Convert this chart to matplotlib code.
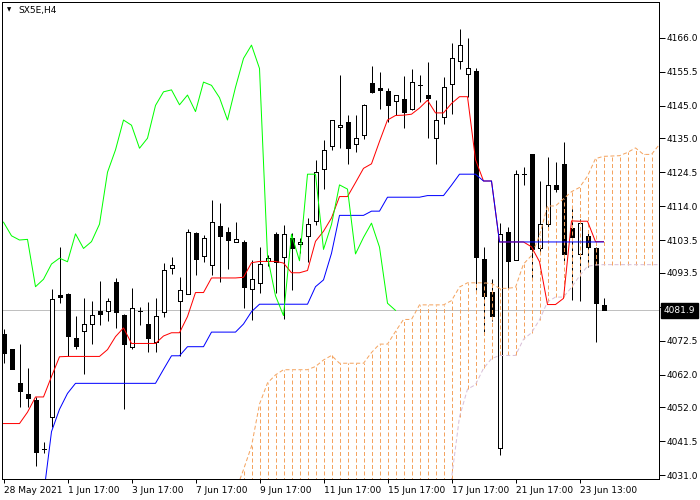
import numpy as np
import matplotlib
matplotlib.use("Agg")
import matplotlib.pyplot as plt
from matplotlib.patches import Rectangle

# ---------------- data (SX5E, H4) ----------------
open_ = [4074.6, 4070.0, 4059.4, 4056.1, 4054.3, 4039.1, 4048.9, 4086.6, 4087.0, 4073.4,
         4075.5, 4077.6, 4081.7, 4081.6, 4090.6, 4080.5, 4070.5, 4081.6, 4077.7, 4072.1,
         4081.3, 4095.1, 4084.9, 4086.9, 4105.9, 4098.8, 4095.8, 4107.9, 4106.1, 4102.9,
         4103.1, 4088.4, 4090.4, 4097.2, 4105.5, 4098.3, 4104.1, 4102.3, 4104.9, 4109.4,
         4125.4, 4132.6, 4138.4, 4139.9, 4133.2, 4135.9, 4152.1, 4150.5, 4149.5, 4146.4,
         4147.1, 4144.1, 4151.3, 4148.2, 4135.0, 4141.6, 4151.6, 4158.7, 4154.7, 4155.7,
         4097.7, 4087.5, 4039.4, 4106.1, 4097.3, 4123.9, 4130.1, 4101.0, 4108.4, 4120.6,
         4127.0, 4107.2, 4099.2, 4104.8, 4101.0, 4083.6]
high = [4076.2, 4070.0, 4071.5, 4064.1, 4055.3, 4041.3, 4088.5, 4101.5, 4087.3, 4080.1,
        4085.7, 4084.8, 4091.0, 4085.7, 4092.0, 4080.8, 4088.7, 4082.9, 4084.6, 4085.6,
        4096.6, 4098.5, 4092.1, 4106.9, 4106.2, 4105.2, 4115.9, 4115.1, 4107.7, 4109.2,
        4103.6, 4097.4, 4101.5, 4099.0, 4106.1, 4108.3, 4105.7, 4104.1, 4110.3, 4128.3,
        4134.4, 4140.6, 4154.5, 4142.1, 4142.1, 4145.5, 4157.3, 4155.5, 4150.4, 4148.3,
        4154.2, 4156.2, 4154.5, 4158.5, 4146.8, 4153.9, 4164.4, 4168.7, 4165.8, 4156.5,
        4101.5, 4091.5, 4108.9, 4107.7, 4125.2, 4126.2, 4130.1, 4121.8, 4129.1, 4127.6,
        4133.9, 4113.7, 4110.0, 4106.4, 4101.5, 4085.8]
low = [4065.7, 4063.7, 4052.0, 4052.0, 4033.9, 4038.0, 4046.0, 4084.3, 4067.8, 4070.0,
       4062.4, 4071.6, 4077.5, 4078.6, 4076.6, 4051.4, 4070.0, 4077.4, 4069.2, 4069.2,
       4080.0, 4093.1, 4067.8, 4086.9, 4092.9, 4096.7, 4092.7, 4090.8, 4094.8, 4102.9,
       4082.5, 4078.9, 4087.4, 4095.5, 4087.2, 4079.2, 4088.2, 4099.5, 4096.9, 4108.2,
       4119.2, 4131.4, 4131.9, 4127.0, 4130.8, 4134.9, 4149.0, 4143.9, 4140.1, 4142.1,
       4138.2, 4143.7, 4146.2, 4135.1, 4127.0, 4139.4, 4142.5, 4156.3, 4147.8, 4088.2,
       4075.0, 4078.5, 4037.3, 4088.7, 4097.3, 4120.6, 4091.9, 4100.0, 4106.7, 4118.5,
       4097.0, 4085.1, 4084.9, 4095.4, 4072.3, 4081.9]
close = [4068.8, 4063.7, 4057.1, 4055.0, 4038.2, 4039.1, 4085.3, 4086.1, 4074.1, 4071.0,
         4077.6, 4080.6, 4080.7, 4084.8, 4081.5, 4071.5, 4082.5, 4081.6, 4073.3, 4080.1,
         4094.4, 4095.8, 4088.2, 4106.0, 4097.8, 4104.1, 4109.1, 4104.9, 4103.6, 4103.8,
         4089.2, 4091.5, 4096.2, 4098.0, 4096.9, 4105.5, 4101.0, 4103.1, 4108.5, 4124.5,
         4131.4, 4140.6, 4139.0, 4131.9, 4135.0, 4145.1, 4149.3, 4149.9, 4145.3, 4148.3,
         4143.2, 4152.3, 4151.3, 4147.5, 4140.6, 4150.7, 4159.6, 4163.7, 4156.5, 4098.5,
         4086.4, 4080.3, 4105.4, 4097.2, 4123.9, 4123.9, 4100.7, 4108.4, 4120.6, 4119.3,
         4099.3, 4104.4, 4108.8, 4101.4, 4084.1, 4081.9]

tenkan = [4047.0, 4047.0, 4047.0, 4050.5, 4055.2, 4055.2, 4061.5, 4067.6, 4067.7, 4067.7,
          4067.7, 4067.7, 4067.7, 4069.8, 4073.8, 4076.5, 4071.7, 4071.7, 4071.7, 4071.7,
          4074.0, 4075.0, 4075.0, 4080.0, 4087.4, 4087.4, 4091.9, 4091.9, 4091.9, 4091.9,
          4092.1, 4096.6, 4097.0, 4097.0, 4097.0, 4096.5, 4093.5, 4093.5, 4094.2, 4103.2,
          4106.3, 4110.4, 4117.0, 4117.0, 4121.3, 4125.7, 4127.1, 4134.0, 4140.6, 4142.0,
          4142.1, 4142.4, 4144.3, 4146.7, 4142.8, 4142.8, 4145.7, 4147.8, 4147.8, 4128.4,
          4121.8, 4121.8, 4103.0, 4103.0, 4103.0, 4103.0, 4101.5, 4096.9, 4083.7, 4083.7,
          4085.6, 4109.5, 4109.4, 4109.4, 4103.1, 4103.1]
kijun = [np.nan, np.nan, np.nan, np.nan, np.nan, 4024.8, 4044.5, 4051.4, 4056.3, 4059.4,
         4059.4, 4059.4, 4059.4, 4059.4, 4059.4, 4059.4, 4059.4, 4059.4, 4059.4, 4059.4,
         4063.7, 4067.9, 4067.9, 4070.7, 4070.7, 4070.7, 4075.2, 4075.2, 4075.2, 4075.2,
         4077.7, 4081.5, 4083.8, 4083.8, 4083.8, 4083.8, 4083.8, 4083.8, 4083.8, 4089.2,
         4091.3, 4099.5, 4111.2, 4111.2, 4111.2, 4111.2, 4112.5, 4112.5, 4116.8, 4116.8,
         4116.8, 4116.8, 4116.8, 4117.3, 4117.3, 4117.3, 4120.5, 4123.9, 4123.9, 4123.9,
         4121.8, 4121.8, 4103.0, 4103.0, 4103.0, 4103.0, 4103.0, 4103.0, 4103.0, 4103.0,
         4103.0, 4103.0, 4103.0, 4103.0, 4103.0, 4103.0]
# Senkou spans for bars 29..82 (shifted 26 bars ahead)
cloud_start = 29
span_a = [4026.0, 4032.8, 4040.0, 4053.0, 4059.5, 4062.0, 4063.6, 4063.6, 4063.6, 4063.6,
          4064.6, 4066.6, 4068.0, 4065.6, 4065.6, 4065.6, 4065.6, 4068.9, 4071.5, 4071.5,
          4075.4, 4079.1, 4079.1, 4083.6, 4083.6, 4083.6, 4083.6, 4084.9, 4089.1, 4090.4,
          4090.4, 4090.4, 4090.2, 4088.7, 4088.7, 4089.0, 4096.2, 4098.8, 4105.0, 4114.1,
          4114.1, 4116.3, 4118.5, 4119.8, 4123.3, 4128.7, 4129.4, 4129.5, 4129.6, 4130.6,
          4132.0, 4130.0, 4130.0, 4133.1]
span_b = [4015.0] * 27 + [4030.0, 4049.1, 4057.6, 4059.0, 4064.0, 4067.0, 4068.0, 4068.0,
          4068.0, 4073.0, 4075.0, 4079.0, 4084.5, 4086.0, 4086.0, 4089.0, 4092.5, 4095.5,
          4095.9, 4096.0, 4096.0, 4096.0, 4096.0, 4096.0, 4096.0, 4096.0, 4096.0]
chikou_shift = 26

x_ticks = list(range(0, 76, 8))
x_labels = ["28 May 2021", "1 Jun 17:00", "3 Jun 17:00", "7 Jun 17:00", "9 Jun 17:00",
            "11 Jun 17:00", "15 Jun 17:00", "17 Jun 17:00", "21 Jun 17:00", "23 Jun 13:00"]
y_ticks = [4166.0, 4155.5, 4145.0, 4135.0, 4124.5, 4114.0, 4103.5, 4093.5, 4083.0,
           4072.5, 4062.0, 4052.0, 4041.5, 4031.0]

# ---------------- figure ----------------
FS = 6.5
LW = 0.72
plt.rcParams['font.family'] = ['DejaVu Sans']
fig = plt.figure(figsize=(7, 5), dpi=100)
ax = fig.add_axes([2 / 700, 21 / 500, 657 / 700, 477 / 500])
ax.set_xlim(-0.1875, 81.9375)
ax.set_ylim(4029.9, 4177.0)

# current price line
ax.axhline(close[-1], color="#C0C0C0", lw=LW, zorder=1)

# candles
for i, (o, h, l, c) in enumerate(zip(open_, high, low, close)):
    ax.vlines(i, l, h, color="black", lw=LW, zorder=2)
    fc = "white" if c >= o else "black"
    ax.add_patch(Rectangle((i - 0.25, min(o, c)), 0.5, abs(c - o), facecolor=fc,
                           edgecolor="black", lw=LW, zorder=3, antialiased=False))

# cloud hatch (sandybrown where span A is above span B, thistle otherwise)
xs_cloud = np.arange(cloud_start, cloud_start + len(span_a))
sa = np.array(span_a)
sb = np.array(span_b)
hatch_cols = ["#F4A460" if a >= b else "#D8BFD8" for a, b in zip(sa, sb)]
dash = (0, (4, 2.5))
ax.vlines(xs_cloud, sb, sa, colors=hatch_cols, lw=LW, linestyles=[dash], zorder=5)
ax.plot(xs_cloud, sa, color="#F4A460", lw=LW, ls=dash, zorder=5)
ax.plot(xs_cloud, sb, color="#D8BFD8", lw=LW, ls=dash, zorder=5)

# lines
xs = np.arange(len(close))
ax.plot(xs, tenkan, color="#FF0000", lw=LW, zorder=6)
ax.plot(xs, kijun, color="#0000FF", lw=LW, zorder=6)
ax.plot(xs[:len(close) - chikou_shift], close[chikou_shift:], color="#00FF00", lw=LW,
        zorder=6)

# axes styling
for s in ax.spines.values():
    s.set_linewidth(LW)
    s.set_color("black")
ax.set_xticks(x_ticks)
ax.set_xticklabels(x_labels, ha="left", fontsize=FS)
ax.tick_params(axis="x", length=3, width=LW, pad=2, direction="out")
ax.yaxis.tick_right()
ax.set_yticks(y_ticks)
ax.set_yticklabels([f"{v:.1f}" for v in y_ticks], fontsize=FS)
ax.tick_params(axis="y", length=4, width=LW, pad=1.5, direction="out")

# price label
ax.annotate(f"{close[-1]:.1f}", xy=(1, close[-1]), xycoords=("axes fraction", "data"),
            xytext=(5, 0), textcoords="offset pixels", ha="left", va="center",
            color="white", fontsize=FS,
            bbox=dict(boxstyle="square,pad=0.3", fc="black", ec="black"),
            annotation_clip=False, zorder=10)

# title
fig.text(9 / 700, 1 - 10 / 500, "\u25BC", fontsize=4, ha="center", va="center")
fig.text(18 / 700, 1 - 11 / 500, "SX5E,H4", fontsize=FS, ha="left", va="center")

fig.savefig("out.png", dpi=100)
